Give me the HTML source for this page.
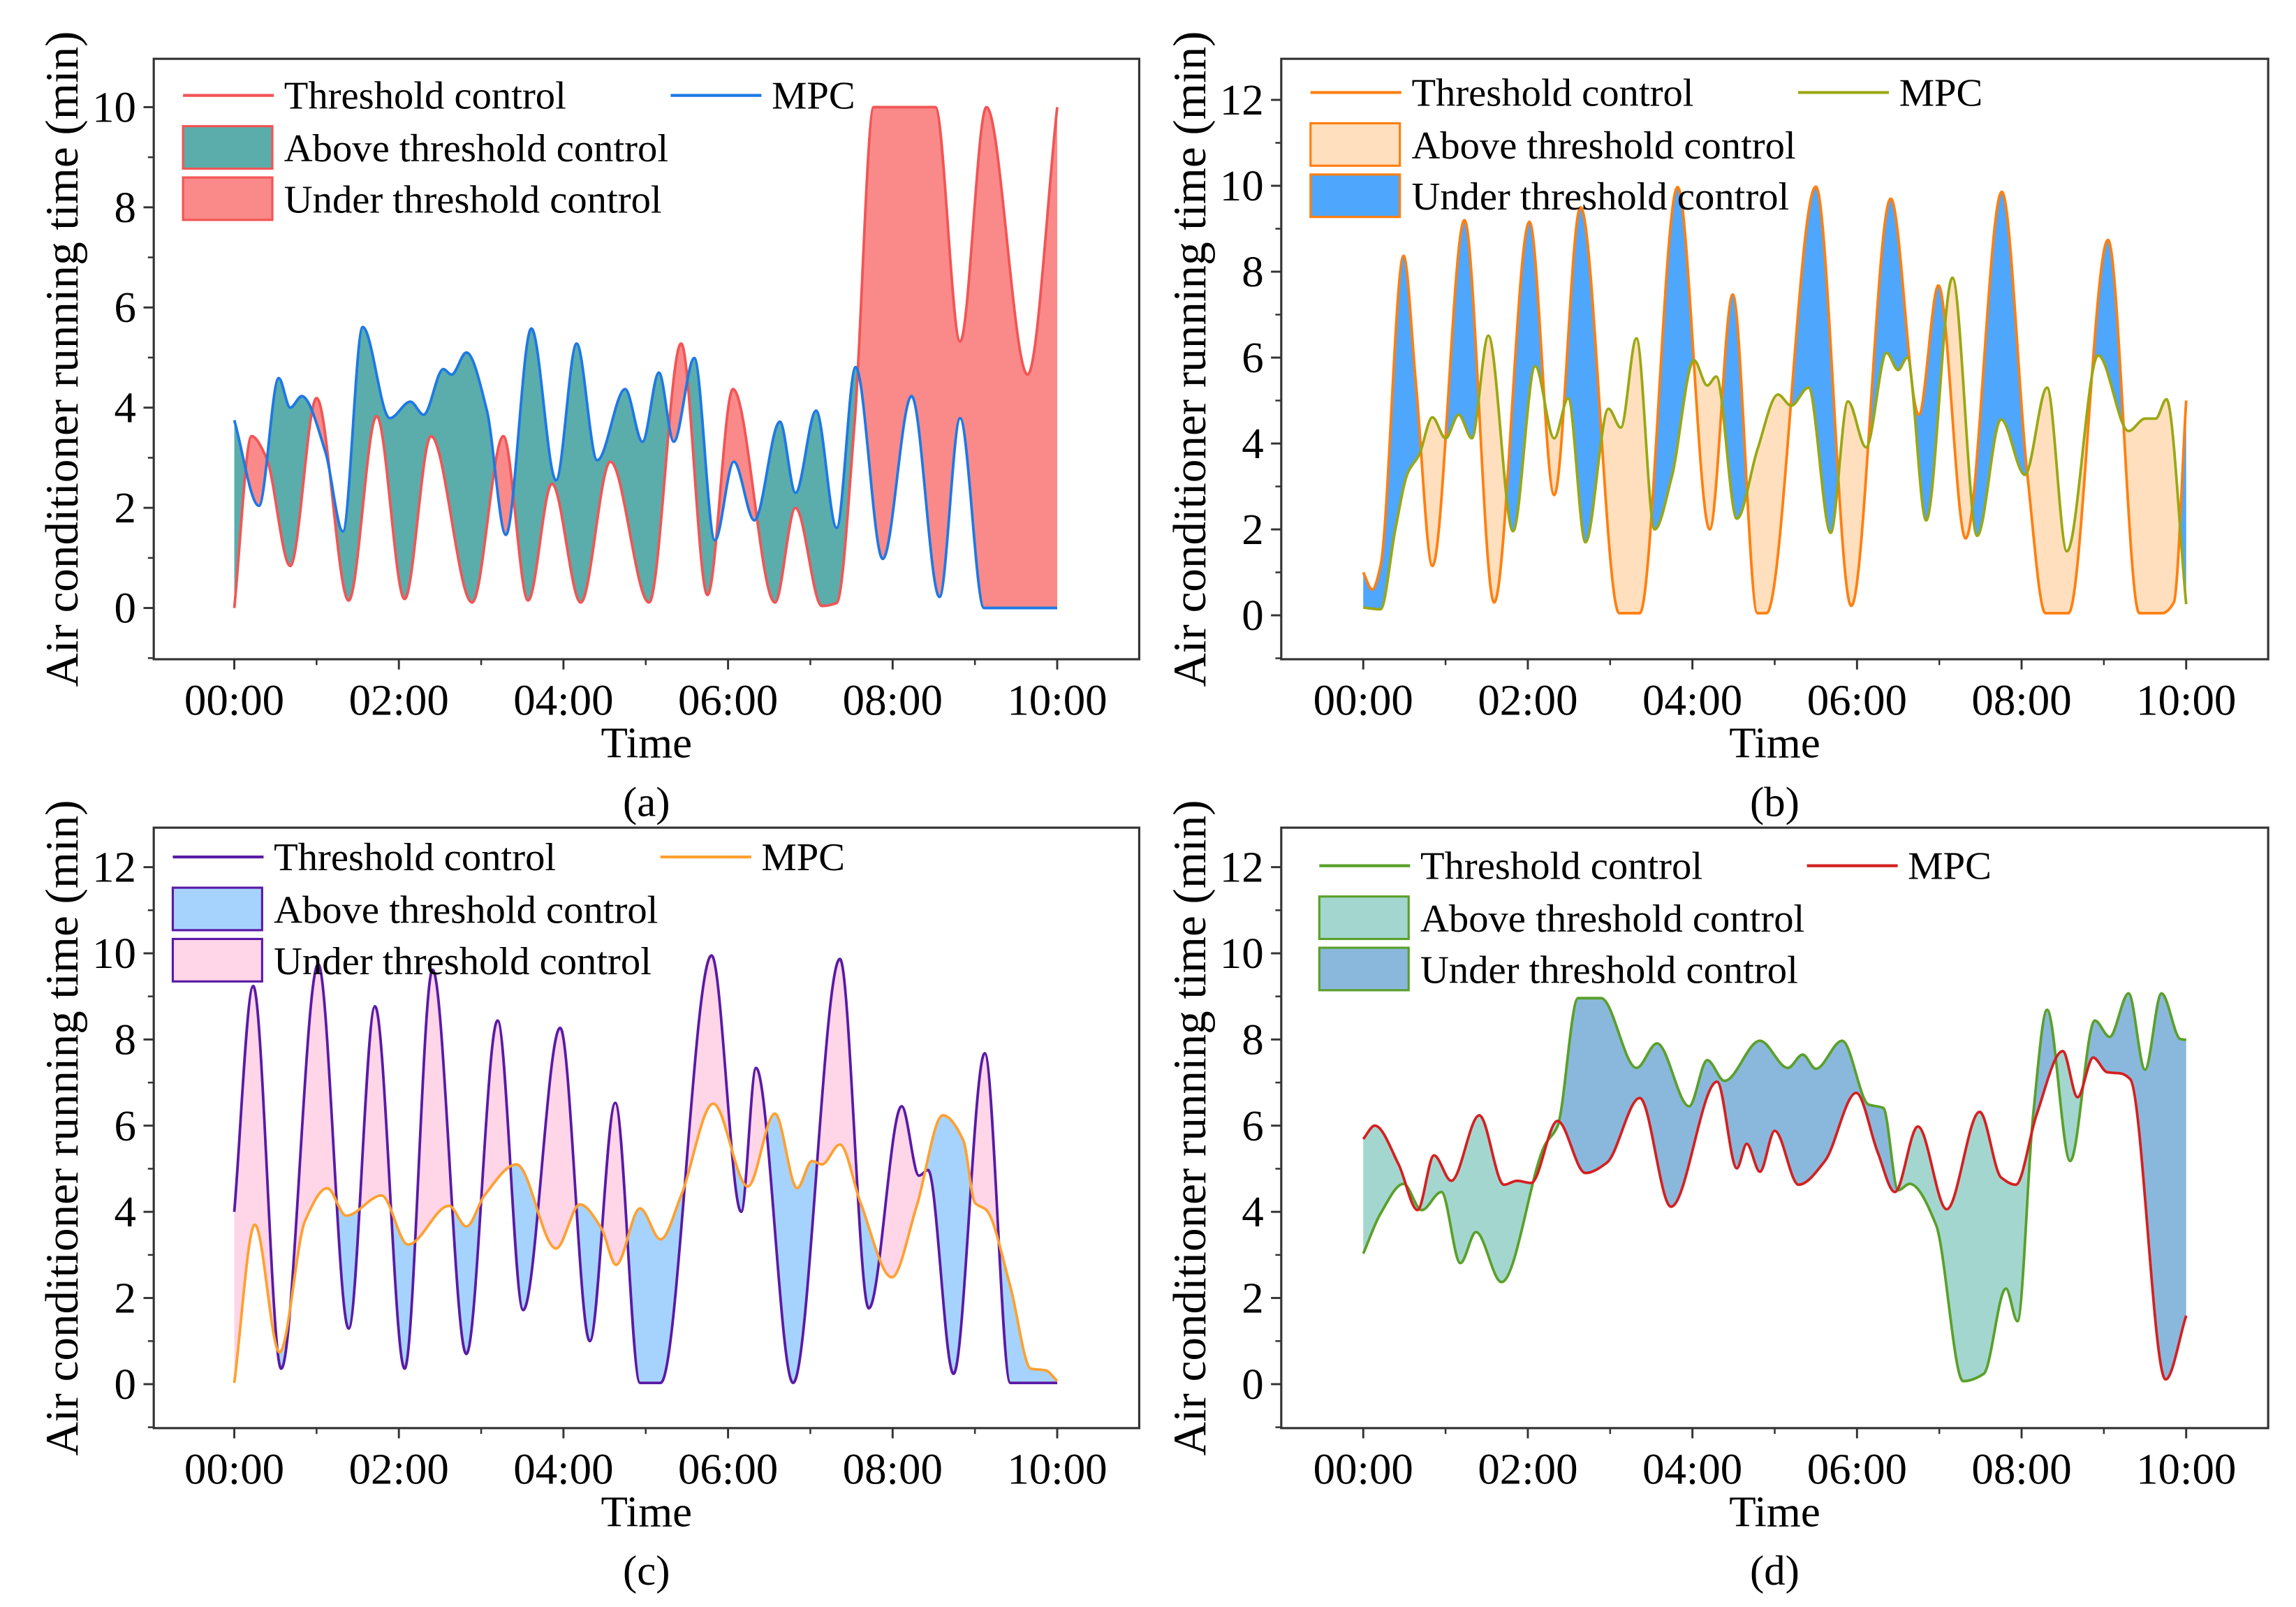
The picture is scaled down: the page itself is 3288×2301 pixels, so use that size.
<!DOCTYPE html>
<html><head><meta charset="utf-8">
<style>
html,body{margin:0;padding:0;background:#fff;}
svg{display:block;}
</style></head>
<body>
<svg id="fig" xmlns="http://www.w3.org/2000/svg" width="3288" height="2301" viewBox="0 0 1568 1097" font-family="'Liberation Serif', serif"></svg>
<script>
// ---------- shared axis data ----------
const xTickHours = [0, 2, 4, 6, 8, 10];
const xTickLabels = ['00:00', '02:00', '04:00', '06:00', '08:00', '10:00'];
const yTicksA = [0, 2, 4, 6, 8, 10];
const yTicksB = [0, 2, 4, 6, 8, 10, 12];
const legendLabels = ['Threshold control', 'MPC', 'Above threshold control', 'Under threshold control'];

// ---------- panel (a) ----------
const aThrT = [0,0.21,0.39,0.68,1.0,1.39,1.73,2.07,2.39,2.89,3.27,3.57,3.86,4.21,4.57,5.04,5.43,5.75,6.06,6.57,6.82,7.14,7.32,7.54,7.77,8.52,8.82,9.14,9.64,10];
const aThrV = [0,3.43,3.0,0.84,4.19,0.15,3.83,0.18,3.43,0.11,3.43,0.15,2.48,0.11,2.92,0.11,5.28,0.26,4.37,0.11,2.0,0.04,0.1,3.75,10,10,5.32,10,4.66,10];
const aMpcT = [0,0.3,0.54,0.68,0.82,1.11,1.32,1.56,1.89,2.14,2.3,2.54,2.64,2.82,3.07,3.3,3.61,3.91,4.16,4.41,4.75,4.96,5.16,5.34,5.59,5.84,6.07,6.32,6.63,6.82,7.07,7.32,7.55,7.88,8.23,8.57,8.82,9.11,10];
const aMpcV = [3.75,2.04,4.59,4.0,4.23,3.1,1.53,5.61,3.79,4.12,3.86,4.77,4.66,5.1,3.94,1.46,5.58,2.55,5.28,2.95,4.37,3.32,4.7,3.32,4.99,1.35,2.92,1.75,3.72,2.3,3.94,1.6,4.81,0.98,4.23,0.22,3.79,0.0,0.0];

// ---------- panel (b) ----------
const bThrT = [0,0.11,0.21,0.49,0.64,0.84,1.23,1.59,2.02,2.32,2.64,3.11,3.36,3.82,4.21,4.49,4.79,4.9,5.5,5.93,6.41,6.75,6.99,7.32,7.76,8.07,8.29,8.57,9.05,9.43,9.71,9.85,10];
const bThrV = [1.0,0.6,1.15,8.37,5.4,1.15,9.2,0.3,9.16,2.8,9.5,0.05,0.05,9.97,2.0,7.47,0.05,0.05,9.98,0.22,9.7,4.67,7.68,1.79,9.86,3.27,0.05,0.05,8.74,0.05,0.05,0.3,5.0];
const bMpcT = [0,0.21,0.39,0.54,0.68,0.84,1.0,1.16,1.32,1.52,1.82,2.09,2.32,2.49,2.7,2.98,3.13,3.32,3.54,3.75,4.02,4.18,4.29,4.54,4.79,5.04,5.2,5.41,5.68,5.89,6.11,6.36,6.5,6.61,6.84,7.16,7.46,7.75,8.04,8.31,8.55,8.93,9.3,9.5,9.63,9.76,10];
const bMpcV = [0.18,0.14,2.0,3.31,3.74,4.61,4.12,4.67,4.12,6.51,1.96,5.8,4.12,5.05,1.7,4.81,4.37,6.45,2.0,3.23,5.94,5.35,5.56,2.25,3.86,5.14,4.88,5.3,1.92,4.98,3.91,6.11,5.71,6.0,2.21,7.86,1.85,4.56,3.27,5.3,1.49,6.05,4.29,4.58,4.58,5.03,0.26];

// ---------- panel (c) ----------
const cThrT = [0,0.23,0.57,1.02,1.39,1.71,2.07,2.41,2.82,3.2,3.51,3.96,4.32,4.63,4.93,5.18,5.8,6.16,6.34,6.79,7.36,7.71,8.11,8.32,8.43,8.74,9.12,9.43,10];
const cThrV = [4.0,9.24,0.36,9.75,1.29,8.77,0.36,9.62,0.7,8.44,1.72,8.27,1.0,6.53,0.03,0.03,9.95,4.0,7.34,0.03,9.87,1.76,6.45,4.84,4.97,0.24,7.68,0.03,0.03];
const cMpcT = [0,0.25,0.55,0.86,1.13,1.36,1.79,2.11,2.61,2.82,3.04,3.43,3.91,4.2,4.46,4.64,4.93,5.18,5.43,5.82,6.24,6.57,6.84,7.02,7.14,7.36,7.61,7.99,8.29,8.61,8.86,9.0,9.14,9.43,9.68,9.86,10];
const cMpcV = [0.03,3.7,0.74,3.79,4.55,3.91,4.38,3.24,4.14,3.66,4.38,5.1,3.15,4.17,3.62,2.77,4.08,3.36,4.38,6.51,4.59,6.28,4.55,5.18,5.1,5.56,4.21,2.48,4.12,6.24,5.65,4.21,4.04,2.27,0.36,0.32,0.07];

// ---------- panel (d) ----------
const dThrT = [0,0.21,0.49,0.71,0.95,1.18,1.37,1.68,2.21,2.36,2.61,2.89,3.32,3.57,3.96,4.18,4.39,4.82,5.16,5.34,5.5,5.82,6.14,6.32,6.5,6.64,6.96,7.29,7.54,7.81,7.95,8.14,8.31,8.59,8.89,9.07,9.3,9.5,9.7,9.93,10];
const dThrV = [3.03,3.96,4.65,4.04,4.46,2.81,3.53,2.37,5.56,5.98,8.96,8.96,7.34,7.91,6.45,7.52,7.04,7.97,7.34,7.65,7.32,7.97,6.49,6.41,4.5,4.65,3.7,0.07,0.24,2.22,1.46,6.24,8.69,5.18,8.44,8.06,9.07,7.3,9.07,8.01,7.99];
const dMpcT = [0,0.14,0.43,0.66,0.86,1.07,1.41,1.71,1.87,2.04,2.36,2.7,2.96,3.36,3.74,4.3,4.54,4.66,4.82,5.0,5.29,5.61,5.99,6.25,6.46,6.74,7.09,7.49,7.75,7.93,8.18,8.5,8.68,8.87,9.04,9.21,9.32,9.75,10];
const dMpcV = [5.69,6.0,5.1,4.04,5.31,4.72,6.24,4.63,4.72,4.67,6.11,4.9,5.14,6.64,4.12,7.02,5.01,5.58,4.93,5.88,4.63,5.18,6.76,5.39,4.46,5.98,4.06,6.32,4.8,4.63,6.24,7.73,6.66,7.58,7.24,7.21,7.08,0.11,1.59];

// ---------- rendering ----------
const NS = 'http://www.w3.org/2000/svg';
const svg = document.getElementById('fig');
function mk(tag, attrs, parent) {
  const e = document.createElementNS(NS, tag);
  for (const k in attrs) e.setAttribute(k, attrs[k]);
  if (tag === 'text') e.setAttribute('font-family', "'Liberation Serif', serif");
  (parent || svg).appendChild(e);
  return e;
}

function monoPath(px, py) {
  const n = px.length;
  if (n < 2) return '';
  const dx = [], m = [];
  for (let i = 0; i < n - 1; i++) { dx.push(px[i+1]-px[i]); m.push((py[i+1]-py[i])/(dx[i]||1e-6)); }
  const t = new Array(n);
  t[0] = m[0]; t[n-1] = m[n-2];
  for (let i = 1; i < n - 1; i++) {
    if (m[i-1]*m[i] <= 0) t[i] = 0;
    else {
      const h0 = dx[i-1], h1 = dx[i];
      t[i] = 3*(h0+h1)/((2*h1+h0)/m[i-1] + (h1+2*h0)/m[i]);
    }
  }
  let d = 'M' + px[0].toFixed(2) + ',' + py[0].toFixed(2);
  for (let i = 0; i < n - 1; i++) {
    const h = dx[i]/3;
    d += 'C' + (px[i]+h).toFixed(2) + ',' + (py[i]+t[i]*h).toFixed(2) + ' ' +
         (px[i+1]-h).toFixed(2) + ',' + (py[i+1]-t[i+1]*h).toFixed(2) + ' ' +
         px[i+1].toFixed(2) + ',' + py[i+1].toFixed(2);
  }
  return d;
}

function drawPanel(p) {
  const g = mk('g', {});
  
  
  const xS = h => p.x0 + h * (p.x10 - p.x0) / 10;
  const yS = v => p.y0 - v * p.ppu;
  const thrX = p.thrT.map(xS), thrY = p.thrV.map(yS);
  const mpcX = p.mpcT.map(xS), mpcY = p.mpcV.map(yS);
  const thrD = monoPath(thrX, thrY), mpcD = monoPath(mpcX, mpcY);
  const fb = p.fy1, ft = p.fy0;
  const under = (d, xs) => d + 'L' + xs[xs.length-1] + ',' + fb + 'L' + xs[0] + ',' + fb + 'Z';
  const above = (d, xs) => d + 'L' + (xs[xs.length-1]+20) + ',' + fb + 'L' + (xs[xs.length-1]+20) + ',' + (ft-20) + 'L' + (xs[0]-20) + ',' + (ft-20) + 'L' + (xs[0]-20) + ',' + fb + 'Z';
  const defs = mk('defs', {}, g);
  const c1 = mk('clipPath', {id: 'clipThr' + p.id}, defs);
  mk('path', {d: above(thrD, thrX)}, c1);
  const c2 = mk('clipPath', {id: 'clipMpc' + p.id}, defs);
  mk('path', {d: above(mpcD, mpcX)}, c2);
  const fa = mk('path', {d: under(mpcD, mpcX), fill: p.aboveFill, 'clip-path': 'url(#clipThr' + p.id + ')'}, g);
  
  
  const fu = mk('path', {d: under(thrD, thrX), fill: p.underFill, 'clip-path': 'url(#clipMpc' + p.id + ')'}, g);
  
  
  const lt = mk('path', {d: thrD, fill: 'none', stroke: p.thrColor, 'stroke-width': 1.8}, g);
  
  
  const lm = mk('path', {d: mpcD, fill: 'none', stroke: p.mpcColor, 'stroke-width': 1.8}, g);
  
  

  const fr = mk('rect', {x: p.fx0, y: p.fy0, width: p.fx1 - p.fx0, height: p.fy1 - p.fy0, fill: 'none', stroke: '#333', 'stroke-width': 1.5}, g);
  
  

  xTickHours.forEach((h, i) => {
    const x = xS(h);
    mk('line', {x1: x, x2: x, y1: p.fy1, y2: p.fy1 + 7, stroke: '#333', 'stroke-width': 1.4}, g);
    if (i < xTickHours.length - 1) {
      const xm = xS(h + 1);
      mk('line', {x1: xm, x2: xm, y1: p.fy1, y2: p.fy1 + 4, stroke: '#333', 'stroke-width': 1.2}, g);
    }
    const t = mk('text', {x: x, y: p.fy1 + 38, 'font-size': 30, 'text-anchor': 'middle'}, g);
    t.textContent = xTickLabels[i];
    
    
  });
  p.yTicks.forEach((v, i) => {
    const y = yS(v);
    mk('line', {x1: p.fx0 - 7, x2: p.fx0, y1: y, y2: y, stroke: '#333', 'stroke-width': 1.4}, g);
    const ym = yS(v + 1);
    if (ym > p.fy0) mk('line', {x1: p.fx0 - 4, x2: p.fx0, y1: ym, y2: ym, stroke: '#333', 'stroke-width': 1.2}, g);
    const t = mk('text', {x: p.fx0 - 12, y: y + 10, 'font-size': 30, 'text-anchor': 'end'}, g);
    t.textContent = String(v);
    
    
  });
  const mv = yS(-1); if (mv < p.fy1) mk('line', {x1: p.fx0 - 4, x2: p.fx0, y1: mv, y2: mv, stroke: '#333', 'stroke-width': 1.2}, g);

  const xt = mk('text', {x: (p.fx0 + p.fx1) / 2, y: p.fy1 + 67, 'font-size': 30, 'text-anchor': 'middle'}, g);
  xt.textContent = 'Time';
  
  
  const yt = mk('text', {x: 0, y: 0, 'font-size': 32, 'text-anchor': 'middle', transform: 'translate(' + (p.fx0 - 52) + ',' + ((p.fy0 + p.fy1) / 2) + ') rotate(-90)'}, g);
  yt.textContent = 'Air conditioner running time (min)';
  
  
  const cap = mk('text', {x: (p.fx0 + p.fx1) / 2, y: p.fy1 + 107, 'font-size': 29, 'text-anchor': 'middle'}, g);
  cap.textContent = '(' + p.id + ')';
  
  

  const L = p.leg;
  const lg = mk('g', {}, g);
  
  
  mk('line', {x1: L.x, x2: L.x + 62, y1: L.y, y2: L.y, stroke: p.thrColor, 'stroke-width': 2}, lg);
  const t1 = mk('text', {x: L.x + 69, y: L.y + 9, 'font-size': 27}, lg);
  t1.textContent = legendLabels[0];
  
  
  mk('line', {x1: L.x + 333, x2: L.x + 395, y1: L.y, y2: L.y, stroke: p.mpcColor, 'stroke-width': 2}, lg);
  const t2 = mk('text', {x: L.x + 402, y: L.y + 9, 'font-size': 27}, lg);
  t2.textContent = legendLabels[1];
  
  
  mk('rect', {x: L.x, y: L.y + 21, width: 61, height: 29, fill: p.aboveFill, stroke: p.thrColor, 'stroke-width': 1.5}, lg);
  const t3 = mk('text', {x: L.x + 69, y: L.y + 45, 'font-size': 27}, lg);
  t3.textContent = legendLabels[2];
  
  
  mk('rect', {x: L.x, y: L.y + 56, width: 61, height: 29, fill: p.underFill, stroke: p.thrColor, 'stroke-width': 1.5}, lg);
  const t4 = mk('text', {x: L.x + 69, y: L.y + 80, 'font-size': 27}, lg);
  t4.textContent = legendLabels[3];
  
  
}

drawPanel({id: 'a', fx0: 105, fx1: 778, fy0: 40, fy1: 450, x0: 160, x10: 722, y0: 415, ppu: 34.2, yTicks: yTicksA,
  thrT: aThrT, thrV: aThrV, mpcT: aMpcT, mpcV: aMpcV,
  thrColor: '#f25555', mpcColor: '#1e78e6', aboveFill: '#5aadaa', underFill: '#f98a89', leg: {x: 125, y: 65}});
drawPanel({id: 'b', fx0: 875, fx1: 1549, fy0: 40, fy1: 450, x0: 931, x10: 1493, y0: 420, ppu: 29.33, yTicks: yTicksB,
  thrT: bThrT, thrV: bThrV, mpcT: bMpcT, mpcV: bMpcV,
  thrColor: '#ff7f10', mpcColor: '#9aa812', aboveFill: '#ffdfbd', underFill: '#4fa6fd', leg: {x: 895, y: 63}});
drawPanel({id: 'c', fx0: 105, fx1: 778, fy0: 565, fy1: 975, x0: 160, x10: 722, y0: 945, ppu: 29.42, yTicks: yTicksB,
  thrT: cThrT, thrV: cThrV, mpcT: cMpcT, mpcV: cMpcV,
  thrColor: '#5a1aa6', mpcColor: '#ffa030', aboveFill: '#a6d3fd', underFill: '#ffd5e8', leg: {x: 118, y: 585}});
drawPanel({id: 'd', fx0: 875, fx1: 1549, fy0: 565, fy1: 975, x0: 931, x10: 1493, y0: 945, ppu: 29.42, yTicks: yTicksB,
  thrT: dThrT, thrV: dThrV, mpcT: dMpcT, mpcV: dMpcV,
  thrColor: '#5aa02a', mpcColor: '#d42020', aboveFill: '#a4d6d0', underFill: '#8ab8dc', leg: {x: 901, y: 591}});
</script>
</body></html>
